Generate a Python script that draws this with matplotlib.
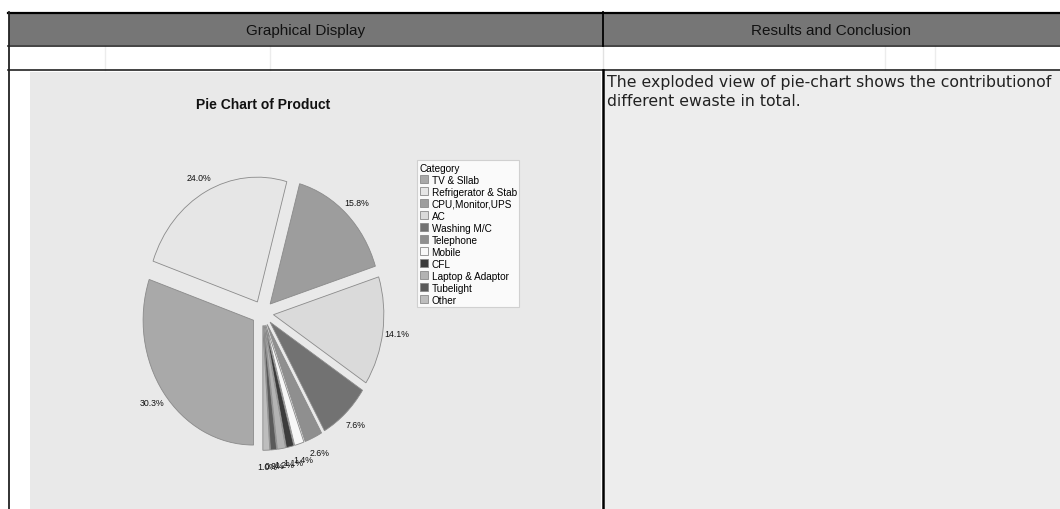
import matplotlib
matplotlib.use("Agg")
import matplotlib.pyplot as plt
from matplotlib.patches import Rectangle

# ==========================================
# 데이터
# ==========================================
categories = ["TV & Sllab", "Refrigerator & Stab", "CPU,Monitor,UPS", "AC",
              "Washing M/C", "Telephone", "Mobile", "CFL",
              "Laptop & Adaptor", "Tubelight", "Other"]
shares = [30.3, 24.0, 15.8, 14.1, 7.6, 2.6, 1.4, 1.1, 1.2, 0.9, 1.0]
slice_colors = ["#a9a9a9", "#e6e6e6", "#9d9d9d", "#dadada", "#727272", "#8f8f8f",
                "#f7f7f7", "#3c3c3c", "#b3b3b3", "#5a5a5a", "#bdbdbd"]

header_left = "Graphical Display"
header_right = "Results and Conclusion"
chart_title = "Pie Chart of Product"
legend_title = "Category"
conclusion = ("The exploded view of pie-chart shows the contributionof\n"
              "different ewaste in total.")

W, H = 1060, 510
plt.rcParams['font.family'] = ['Liberation Sans', 'DejaVu Sans']

fig = plt.figure(figsize=(W / 100, H / 100), dpi=100)
fig.patch.set_facecolor("white")

# ==========================================
# 표 배경 (픽셀 좌표)
# ==========================================
bg = fig.add_axes([0, 0, 1, 1])
bg.set_xlim(0, W)
bg.set_ylim(H, 0)
bg.axis("off")

bg.add_patch(Rectangle((9, 14), W - 9, 32, facecolor="#767676", edgecolor="none"))
bg.add_patch(Rectangle((30, 73), 571, H - 73, facecolor="#e9e9e9", edgecolor="none"))
bg.add_patch(Rectangle((604, 72), W - 604, H - 72, facecolor="#ededed", edgecolor="none"))

# 옅은 셀 구분선
for x in [105, 270, 885, 935]:
    bg.plot([x, x], [47, 71], color="#ececec", lw=1)
bg.plot([603, 603], [47, 71], color="#e2e2e2", lw=1)

# 검은 테두리
bg.plot([8, W], [13.5, 13.5], color="black", lw=1.6)
bg.plot([8, W], [46.5, 46.5], color="#222222", lw=1.2)
bg.plot([8, W], [71, 71], color="#222222", lw=1.2)
bg.plot([9, 9], [13, H], color="#222222", lw=1.3)
bg.plot([603, 603], [13, 47], color="black", lw=1.3)
bg.plot([602.5, 602.5], [71, H], color="black", lw=1.8)

bg.text(306, 31, header_left, ha="center", va="center", fontsize=11, color="#111111")
bg.text(831, 31, header_right, ha="center", va="center", fontsize=11, color="#111111")
bg.text(607, 92, conclusion, ha="left", va="center", fontsize=11.3, color="#222222",
        linespacing=1.28, family="DejaVu Sans")
bg.text(263, 105, chart_title, ha="center", va="center", fontsize=10,
        fontweight="bold", color="#111111")

# ==========================================
# 파이 차트 (분리형)
# ==========================================
cx, cy, rx, ry = 262.5, 314, 110.4, 124.8
ax = fig.add_axes([(cx - 1.25 * rx) / W, 1 - (cy + 1.25 * ry) / H,
                   2.5 * rx / W, 2.5 * ry / H])
wedges, texts, autotexts = ax.pie(
    shares, colors=slice_colors, explode=[0.1] * len(shares),
    startangle=270, counterclock=False, autopct="%1.1f%%", pctdistance=1.13,
    wedgeprops={"edgecolor": "#8a8a8a", "linewidth": 0.6},
    textprops={"fontsize": 6.3, "color": "#111111"})
ax.set_aspect("auto")
ax.set_xlim(-1.25, 1.25)
ax.set_ylim(-1.25, 1.25)

leg = fig.legend(wedges, categories, title=legend_title, loc="upper left",
                 bbox_to_anchor=(417 / W, 1 - 161 / H), fontsize=7.2,
                 title_fontsize=7.2, frameon=True, fancybox=False,
                 handlelength=0.8, handleheight=0.8, handletextpad=0.4,
                 labelspacing=0.2, borderpad=0.25, borderaxespad=0)
leg.get_frame().set_edgecolor("#c8c8c8")
leg.get_frame().set_linewidth(0.8)
leg._legend_box.align = "left"

fig.savefig("out.png", dpi=100)
